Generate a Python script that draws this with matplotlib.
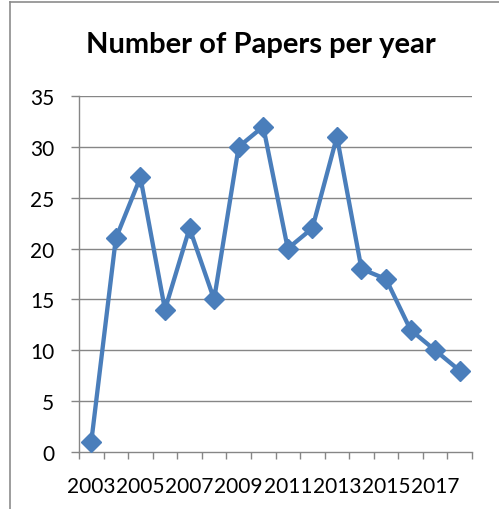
import matplotlib
matplotlib.use("Agg")
import matplotlib.pyplot as plt
from matplotlib.lines import Line2D

years = list(range(2003, 2019))
papers = [1, 21, 27, 14, 22, 15, 30, 32, 20, 22, 31, 18, 17, 12, 10, 8]
y_ticks = [0, 5, 10, 15, 20, 25, 30, 35]
title = "Number of Papers per year"

W, H = 499, 510
DPI = 100
line_color = "#4A7EBB"
grid_color = "#868686"

plt.rcParams["font.family"] = ["Lato", "DejaVu Sans"]

fig = plt.figure(figsize=(W / DPI, H / DPI), dpi=DPI)

# chart area frame
fig.add_artist(Line2D([10 / W, 10 / W], [0, 1 - 3 / H], transform=fig.transFigure,
                      color="#8c8c8c", lw=1.2))
fig.add_artist(Line2D([10 / W, 1], [1 - 3 / H, 1 - 3 / H], transform=fig.transFigure,
                      color="#8c8c8c", lw=1.2))

left, right = 79 / W, 472 / W
bottom, top = 1 - 453 / H, 1 - 97 / H
ax = fig.add_axes([left, bottom, right - left, top - bottom])

x = list(range(1, len(years) + 1))
ax.plot(x, papers, color=line_color, lw=3.1, marker="D", markersize=10,
        markerfacecolor=line_color, markeredgecolor=line_color, zorder=3,
        clip_on=False)

ax.set_xlim(0.5, len(years) + 0.5)
ax.set_ylim(0, 35)

ax.set_yticks(y_ticks)
ax.set_yticklabels([str(v) for v in y_ticks])
for v in y_ticks[1:]:
    ax.axhline(v, color=grid_color, lw=1.0, zorder=1)

# category labels on every other year, ticks between categories
ax.set_xticks(x[::2])
ax.set_xticklabels([str(y) for y in years[::2]])
ax.set_xticks([i + 0.5 for i in range(0, len(years) + 1)], minor=True)
ax.tick_params(axis="x", which="major", length=0, pad=17, labelsize=15)
ax.tick_params(axis="x", which="minor", length=5, width=1.0, color=grid_color)
ax.tick_params(axis="y", length=5.8, width=1.0, color=grid_color, pad=12,
               labelsize=15)

for s in ["top", "right"]:
    ax.spines[s].set_visible(False)
for s in ["left", "bottom"]:
    ax.spines[s].set_color(grid_color)
    ax.spines[s].set_linewidth(1.0)

fig.text(0.522, 1 - 45 / H, title, ha="center", va="center",
         fontsize=21, fontweight="bold")

fig.savefig("out.png", dpi=DPI)
